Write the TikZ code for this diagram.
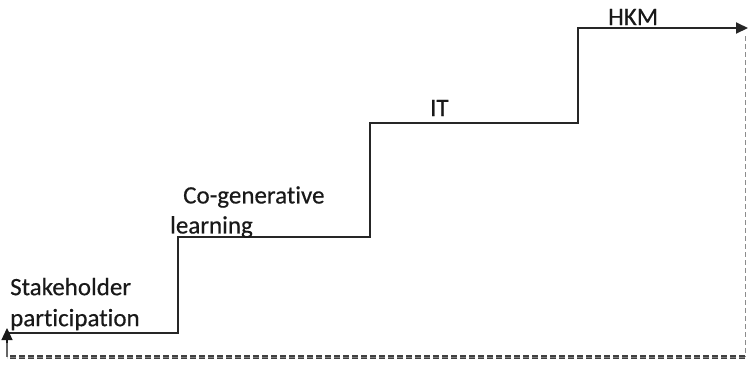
\documentclass[tikz,border=0pt]{standalone}
\usepackage{fontspec}
\setmainfont[Ligatures=NoCommon,FakeBold=0.4]{Carlito}
\usetikzlibrary{arrows.meta}
\begin{document}
\begin{tikzpicture}[x=1pt,y=-1pt,
  stairline/.style={draw=black!85,line width=2pt},
  tip/.style={-{Triangle[length=12pt,width=11pt]}},
  lbl/.style={font=\fontsize{25}{31}\selectfont,text=black!90,inner sep=0pt,align=left},
  feedback/.style={draw=black!75,line width=1.9pt,double=black!50,double distance=0.8pt,dash pattern=on 6pt off 3pt},
  guide/.style={draw=black!45,line width=0.8pt,dash pattern=on 5pt off 3pt}]
\useasboundingbox (0,0) rectangle (748,373);
% staircase corners
\coordinate (s0) at (7,333);
\coordinate (s1) at (178,333);
\coordinate (s2) at (178,237);
\coordinate (s3) at (370,237);
\coordinate (s4) at (370,123);
\coordinate (s5) at (578,123);
\coordinate (s6) at (578,28);
\coordinate (s7) at (748,28);
% feedback loop corners
\coordinate (f0) at (745,36);
\coordinate (f1) at (745,357);
\coordinate (f2) at (7,357);
% staircase with arrow to the top step
\draw[stairline,tip] (s0) -- (s1) -- (s2) -- (s3) -- (s4) -- (s5) -- (s6) -- (s7);
% return path
\draw[guide] (f0) -- (f1);
\draw[feedback] (f1) -- (f2);
\draw[draw=black!60,line width=1.2pt] (f2) -- (7,343);
\draw[draw=black!90,line width=1.2pt,tip] (7,343) -- (7,328);
% step labels
\node[lbl,anchor=west] (sp) at (10,304) {Stakeholder\\participation};
\node[lbl,anchor=west] (cg) at (170,212) {\hspace*{13pt}Co-generative\\[-1pt]learning};
\node[lbl,anchor=west] (it) at (430,108) {IT};
\node[lbl,anchor=west] (hkm) at (608,17) {HKM};
\end{tikzpicture}
\end{document}
